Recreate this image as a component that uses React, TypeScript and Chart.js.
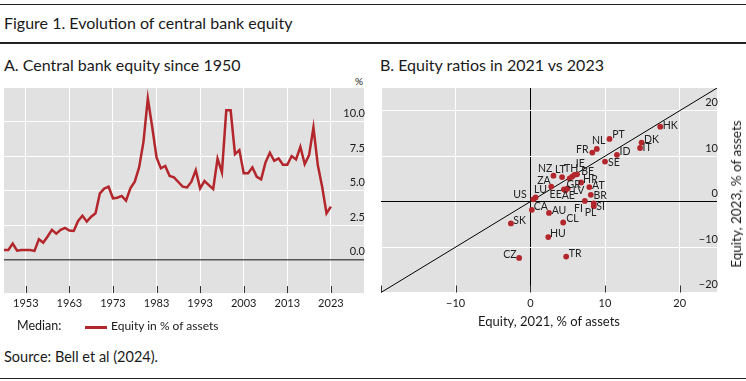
import React, { useEffect, useRef } from "react";
import { Chart, registerables } from "chart.js";

Chart.register(...registerables);

const FONT_FAMILY = "Lato, 'Open Sans', sans-serif";
const RED = "#b3262b";
const PANEL_BG = "#e1e1e1";
const TEXT = "#1a1a1a";

// Panel A: median central bank equity, % of assets
const years = [
  1948, 1949, 1950, 1951, 1952, 1953, 1954, 1955, 1956, 1957, 1958, 1959,
  1960, 1961, 1962, 1963, 1964, 1965, 1966, 1967, 1968, 1969, 1970, 1971,
  1972, 1973, 1974, 1975, 1976, 1977, 1978, 1979, 1980, 1981, 1982, 1983,
  1984, 1985, 1986, 1987, 1988, 1989, 1990, 1991, 1992, 1993, 1994, 1995,
  1996, 1997, 1998, 1999, 2000, 2001, 2002, 2003, 2004, 2005, 2006, 2007,
  2008, 2009, 2010, 2011, 2012, 2013, 2014, 2015, 2016, 2017, 2018, 2019,
  2020, 2021, 2022, 2023,
];
const medianEquity = [
  0.72, 0.72, 1.18, 0.67, 0.72, 0.72, 0.72, 0.65, 1.49, 1.25, 1.69, 2.17,
  1.9, 2.17, 2.31, 2.12, 2.1, 2.82, 3.2, 2.77, 3.13, 3.37, 4.82, 5.16,
  5.3, 4.46, 4.5, 4.63, 4.29, 5.18, 5.66, 6.7, 8.55, 11.7, 9.64, 7.42,
  6.63, 6.8, 6.07, 5.98, 5.64, 5.3, 5.25, 5.66, 6.5, 5.18, 5.71, 5.42,
  5.13, 7.33, 6.34, 10.84, 10.84, 7.66, 7.95, 6.27, 6.27, 6.7, 6.02, 5.83,
  7.06, 7.76, 7.18, 7.35, 6.89, 6.89, 7.52, 7.28, 8.19, 6.94, 7.59, 9.59,
  6.87, 5.3, 3.37, 3.86,
];
const yearTicks = [1953, 1963, 1973, 1983, 1993, 2003, 2013, 2023];
const yearRange = [1948, 2030.6];
const equityTicksA = [0, 2.5, 5, 7.5, 10];
const equityRangeA = [-2.4, 12.45];

// Panel B: equity ratios 2021 vs 2023
const countryCodes = [
  "HK", "PT", "NL", "FR", "DK", "IT", "ID", "SE", "NZ", "LT", "TH", "IE",
  "BE", "ZA", "GR", "HR", "LU", "US", "EE", "AE", "LV", "AT", "BR", "FI",
  "SI", "PL", "CA", "AU", "CL", "SK", "HU", "CZ", "TR",
];
const equity2021 = [
  17.4, 10.6, 8.9, 8.3, 14.9, 14.7, 11.6, 10.0, 3.1, 4.25, 5.6, 6.25,
  5.9, 2.8, 5.27, 6.8, 0.7, 0.4, 4.5, 5.0, 4.7, 7.9, 8.1, 7.3,
  8.5, 8.5, 0.2, 2.5, 4.4, -2.6, 2.4, -1.5, 4.8,
];
const equity2023 = [
  16.5, 13.8, 11.6, 10.8, 13.0, 11.8, 10.3, 8.8, 5.7, 5.4, 5.5, 6.0,
  5.9, 3.3, 5.1, 4.2, 0.9, 0.5, 2.7, 2.9, 2.5, 3.2, 1.5, 0.15,
  -0.4, -1.0, -1.8, -2.5, -4.6, -4.8, -7.8, -12.4, -12.1,
];
const ratioTicks = [-20, -10, 0, 10, 20];
const ratioRange = [-20, 25];

// label placement (pixel offset of label centre from its dot)
const labelOffsets: Record<string, [number, number]> = {
  HK: [10, -1], PT: [9, -4], NL: [2, -8], FR: [-10, -3], DK: [10, -3],
  IT: [7, 0], ID: [8, -3], SE: [9, 1], NZ: [-8.3, -6.7], LT: [-1.7, -7.5],
  TH: [-1, -8.4], IE: [3.3, -10.3], BE: [13.3, -2.7], ZA: [-7.4, -6],
  GR: [4, 5.7], HR: [9.3, -2.7], LU: [4.9, -8.3], US: [-13.3, -4.3],
  EE: [-8.3, 5], AE: [0.6, 6.7], LV: [13.2, 0.7], AT: [9, -1.3],
  BR: [9.3, 0.7], FI: [-6.4, 7.3], SI: [6.7, 2.7], PL: [-3.3, 6.5],
  CA: [9, -3.3], AU: [10, -2.7], CL: [9.3, -3.7], SK: [8.7, -2.7],
  HU: [9.7, -3.3], CZ: [-9.3, -3], TR: [9, -2.7],
};

const fmtSigned = (v: number) => (v < 0 ? "\u2212" + Math.abs(v) : String(v));

const panelBackground = {
  id: "panelBackground",
  beforeDraw(chart: any) {
    const { ctx, chartArea: a } = chart;
    ctx.save();
    ctx.fillStyle = PANEL_BG;
    ctx.fillRect(a.left, a.top, a.right - a.left, a.bottom - a.top);
    ctx.restore();
  },
};

const innerTicks = {
  id: "innerTicks",
  beforeDatasetsDraw(chart: any) {
    const { ctx, chartArea: a } = chart;
    const xs = chart.scales.x;
    ctx.save();
    ctx.strokeStyle = "#333";
    ctx.lineWidth = 1;
    ctx.beginPath();
    xs.ticks.forEach((t: any) => {
      const px = Math.round(xs.getPixelForValue(t.value)) + 0.5;
      ctx.moveTo(px, a.bottom);
      ctx.lineTo(px, a.bottom - 7);
    });
    ctx.stroke();
    ctx.restore();
  },
};

const pointLabels = {
  id: "pointLabels",
  afterDatasetsDraw(chart: any) {
    const { ctx } = chart;
    const meta = chart.getDatasetMeta(0);
    ctx.save();
    ctx.font = `10.5px ${FONT_FAMILY}`;
    ctx.fillStyle = "#222";
    ctx.textAlign = "center";
    ctx.textBaseline = "middle";
    meta.data.forEach((el: any, i: number) => {
      const code = countryCodes[i];
      const [dx, dy] = labelOffsets[code] || [9, -3];
      ctx.fillText(code, el.x + dx, el.y + dy);
    });
    ctx.restore();
  },
};

const tickFont = { family: FONT_FAMILY, size: 11 };

function EquityLineChart() {
  const ref = useRef<HTMLCanvasElement | null>(null);
  useEffect(() => {
    if (!ref.current) return;
    const chart = new Chart(ref.current, {
      type: "line",
      data: {
        datasets: [
          {
            data: years.map((yr, i) => ({ x: yr, y: medianEquity[i] })),
            borderColor: RED,
            borderWidth: 2.5,
            pointRadius: 0,
            tension: 0,
            fill: false,
          },
        ],
      },
      options: {
        animation: false,
        responsive: false,
        events: [],
        layout: { padding: { left: 4, top: 8, right: 8, bottom: 0 } },
        plugins: { legend: { display: false }, tooltip: { enabled: false } },
        scales: {
          x: {
            type: "linear",
            min: yearRange[0],
            max: yearRange[1],
            afterBuildTicks: (s: any) => {
              s.ticks = yearTicks.map((v) => ({ value: v }));
            },
            afterFit: (s: any) => {
              s.height = 27;
            },
            grid: { color: "#ffffff", lineWidth: 1, drawTicks: false },
            border: { display: false },
            ticks: {
              font: tickFont,
              color: TEXT,
              padding: 4,
              maxRotation: 0,
              autoSkip: false,
              callback: (v: any) => String(v),
            },
          },
          y: {
            type: "linear",
            position: "right",
            min: equityRangeA[0],
            max: equityRangeA[1],
            afterBuildTicks: (s: any) => {
              s.ticks = equityTicksA.map((v) => ({ value: v }));
            },
            afterFit: (s: any) => {
              s.width = 0;
            },
            grid: {
              color: (c: any) => (c.tick && c.tick.value === 0 ? "#555555" : "#ffffff"),
              lineWidth: (c: any) => (c.tick && c.tick.value === 0 ? 1.5 : 1),
              drawTicks: false,
            },
            border: { display: false },
            ticks: {
              mirror: true,
              padding: 1,
              labelOffset: -8,
              font: tickFont,
              color: TEXT,
              callback: (v: any) => Number(v).toFixed(1),
            },
          },
        },
      },
      plugins: [panelBackground, innerTicks],
    } as any);
    return () => chart.destroy();
  }, []);
  return (
    <canvas
      ref={ref}
      width={372}
      height={240}
      style={{ position: "absolute", left: 0, top: 80, width: 372, height: 240 }}
    />
  );
}

function EquityScatterChart() {
  const ref = useRef<HTMLCanvasElement | null>(null);
  useEffect(() => {
    if (!ref.current) return;
    const chart = new Chart(ref.current, {
      type: "scatter",
      data: {
        datasets: [
          {
            data: equity2021.map((x, i) => ({ x, y: equity2023[i] })),
            backgroundColor: RED,
            borderWidth: 0,
            pointRadius: 2.9,
          },
          {
            type: "line",
            data: ratioRange.map((v) => ({ x: v, y: v })),
            borderColor: "#000000",
            borderWidth: 1,
            pointRadius: 0,
            fill: false,
          },
        ],
      },
      options: {
        animation: false,
        responsive: false,
        events: [],
        layout: { padding: { left: 8, top: 8, right: 29, bottom: 0 } },
        plugins: { legend: { display: false }, tooltip: { enabled: false } },
        scales: {
          x: {
            type: "linear",
            min: ratioRange[0],
            max: ratioRange[1],
            afterBuildTicks: (s: any) => {
              s.ticks = ratioTicks.map((v) => ({ value: v }));
            },
            afterFit: (s: any) => {
              s.height = 27.5;
            },
            grid: {
              color: (c: any) => (c.tick && c.tick.value === 0 ? "#000000" : "#ffffff"),
              lineWidth: 1,
              drawTicks: false,
            },
            border: { display: false },
            ticks: {
              font: tickFont,
              color: TEXT,
              padding: 4,
              maxRotation: 0,
              autoSkip: false,
              callback: (v: any) => (v === ratioRange[0] ? "" : fmtSigned(v)),
            },
          },
          y: {
            type: "linear",
            position: "right",
            min: ratioRange[0],
            max: ratioRange[1],
            afterBuildTicks: (s: any) => {
              s.ticks = ratioTicks.map((v) => ({ value: v }));
            },
            afterFit: (s: any) => {
              s.width = 0;
            },
            grid: {
              color: (c: any) => (c.tick && c.tick.value === 0 ? "#000000" : "#ffffff"),
              lineWidth: 1,
              drawTicks: false,
            },
            border: { display: false },
            ticks: {
              mirror: true,
              padding: 1,
              labelOffset: -8,
              font: tickFont,
              color: TEXT,
              callback: (v: any) => fmtSigned(v),
            },
          },
        },
      },
      plugins: [panelBackground, innerTicks, pointLabels],
    } as any);
    return () => chart.destroy();
  }, []);
  return (
    <canvas
      ref={ref}
      width={373}
      height={240}
      style={{ position: "absolute", left: 373, top: 80, width: 373, height: 240 }}
    />
  );
}

function Txt(props: { x: number; cy: number; size: number; children: any; align?: "left" | "right" | "center" }) {
  const { x, cy, size, children, align = "left" } = props;
  const style: any = {
    position: "absolute",
    top: cy - size * 0.55,
    fontSize: size,
    lineHeight: `${size}px`,
    fontFamily: FONT_FAMILY,
    color: TEXT,
    whiteSpace: "nowrap",
  };
  if (align === "left") style.left = x;
  else if (align === "right") style.right = 746 - x;
  else {
    style.left = x;
    style.transform = "translateX(-50%)";
  }
  return <div style={style}>{children}</div>;
}

function HLine({ y }: { y: number }) {
  return (
    <div style={{ position: "absolute", left: 0, top: y, width: 746, height: 1.5, background: "#222" }} />
  );
}

export default function App() {
  return (
    <div
      style={{
        position: "absolute",
        left: 0,
        top: 0,
        width: 746,
        height: 381,
        background: "#fff",
        overflow: "hidden",
      }}
    >
      <HLine y={3.5} />
      <Txt x={4} cy={24} size={16}>Figure 1. Evolution of central bank equity</Txt>
      <HLine y={42} />
      <Txt x={4} cy={66} size={16}>A. Central bank equity since 1950</Txt>
      <Txt x={380} cy={66} size={16}>B. Equity ratios in 2021 vs 2023</Txt>
      <Txt x={363} cy={81} size={10} align="right">%</Txt>
      <EquityLineChart />
      <EquityScatterChart />
      <Txt x={17} cy={327} size={12.5}>Median:</Txt>
      <div style={{ position: "absolute", left: 85, top: 325.5, width: 22, height: 3, background: RED }} />
      <Txt x={111} cy={327} size={12}>Equity in % of assets</Txt>
      <Txt x={549} cy={322} size={13} align="center">Equity, 2021, % of assets</Txt>
      <div
        style={{
          position: "absolute",
          left: 736,
          top: 194,
          transform: "translate(-50%, -50%) rotate(-90deg)",
          fontSize: 13.5,
          lineHeight: "14px",
          fontFamily: FONT_FAMILY,
          color: TEXT,
          whiteSpace: "nowrap",
        }}
      >
        Equity, 2023, % of assets
      </div>
      <Txt x={4} cy={358} size={14.5}>Source: Bell et al (2024).</Txt>
      <HLine y={377.5} />
    </div>
  );
}
